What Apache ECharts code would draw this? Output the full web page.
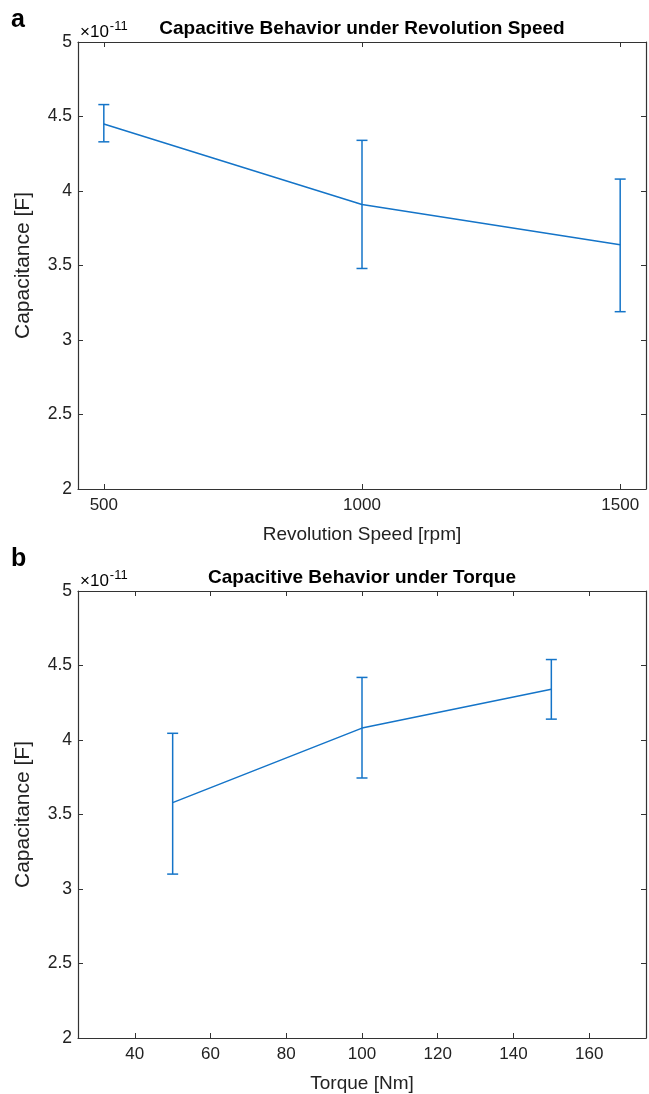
<!DOCTYPE html>
<html>
<head>
<meta charset="utf-8">
<script src="https://cdn.jsdelivr.net/npm/echarts@6/dist/echarts.min.js"></script>
<style>
html,body{margin:0;padding:0;background:#fff;}
#c{width:649px;height:1094px;}
</style>
</head>
<body>
<div id="c"></div>
<script>
// Panel a: revolution speed (values in units of 1e-11 F)
const speedX = [500, 1000, 1500];
const speedMean = [4.45, 3.91, 3.64];
const speedLow = [4.33, 3.48, 3.19];
const speedHigh = [4.58, 4.34, 4.08];
const speedTicks = [500, 1000, 1500];

// Panel b: torque
const torqueX = [50, 100, 150];
const torqueMean = [3.58, 4.08, 4.34];
const torqueLow = [3.10, 3.745, 4.14];
const torqueHigh = [4.045, 4.42, 4.54];
const torqueTicks = [40, 60, 80, 100, 120, 140, 160];

const yTicks = [2, 2.5, 3, 3.5, 4, 4.5, 5];

const BLUE = '#1474c8';
const AX = '#333333';
const FONT = 'Liberation Sans';

const chart = echarts.init(document.getElementById('c'));

function xAxes(gridIndex, min, max, ticks, name) {
  return [
    {
      type: 'value', gridIndex, position: 'bottom', min, max,
      name, nameLocation: 'middle', nameGap: 36,
      nameTextStyle: {fontFamily: FONT, fontSize: 19, color: '#222'},
      axisLine: {show: true, onZero: false, lineStyle: {color: AX, width: 1.2}},
      axisTick: {show: true, inside: true, length: 5, customValues: ticks, lineStyle: {color: AX}},
      axisLabel: {show: true, customValues: ticks, margin: 8, fontFamily: FONT, fontSize: 17, color: '#222',
        formatter: v => String(v)},
      splitLine: {show: false}
    },
    {
      type: 'value', gridIndex, position: 'top', min, max,
      axisLine: {show: true, onZero: false, lineStyle: {color: AX, width: 1.2}},
      axisTick: {show: true, inside: true, length: 5, customValues: ticks, lineStyle: {color: AX}},
      axisLabel: {show: false},
      splitLine: {show: false}
    }
  ];
}

function yAxes(gridIndex) {
  return [
    {
      type: 'value', gridIndex, position: 'left', min: 2, max: 5, interval: 0.5,
      name: 'Capacitance [F]', nameLocation: 'middle', nameGap: 44,
      nameTextStyle: {fontFamily: FONT, fontSize: 21, color: '#222'},
      axisLine: {show: true, onZero: false, lineStyle: {color: AX, width: 1.2}},
      axisTick: {show: true, inside: true, length: 5, customValues: yTicks, lineStyle: {color: AX}},
      axisLabel: {show: true, customValues: yTicks, margin: 6, fontFamily: FONT, fontSize: 17.5, color: '#222',
        formatter: v => String(v)},
      splitLine: {show: false}
    },
    {
      type: 'value', gridIndex, position: 'right', min: 2, max: 5, interval: 0.5,
      axisLine: {show: true, onZero: false, lineStyle: {color: AX, width: 1.2}},
      axisTick: {show: true, inside: true, length: 5, customValues: yTicks, lineStyle: {color: AX}},
      axisLabel: {show: false},
      splitLine: {show: false}
    }
  ];
}

function errRender(params, api) {
  const x = api.value(0);
  const lo = api.coord([x, api.value(1)]);
  const hi = api.coord([x, api.value(2)]);
  const hw = 5.5;
  const style = {stroke: BLUE, lineWidth: 1.5, fill: null};
  return {
    type: 'group',
    children: [
      {type: 'line', shape: {x1: lo[0], y1: lo[1], x2: hi[0], y2: hi[1]}, style},
      {type: 'line', shape: {x1: lo[0] - hw, y1: lo[1], x2: lo[0] + hw, y2: lo[1]}, style},
      {type: 'line', shape: {x1: hi[0] - hw, y1: hi[1], x2: hi[0] + hw, y2: hi[1]}, style}
    ]
  };
}

function expText(y) {
  return {type: 'text', x: 80, y: y, style: {
    text: '{b|×10}{s|-11}', verticalAlign: 'bottom',
    rich: {
      b: {fontFamily: FONT, fontSize: 17, color: '#222', verticalAlign: 'bottom'},
      s: {fontFamily: FONT, fontSize: 13, color: '#222', verticalAlign: 'bottom', padding: [0, 0, 8, 1]}
    }
  }};
}

const xa = xAxes(0, 450, 1550, speedTicks, 'Revolution Speed [rpm]');
const xb = xAxes(1, 25, 175, torqueTicks, 'Torque [Nm]');
const ya = yAxes(0);
const yb = yAxes(1);

const option = {
  backgroundColor: '#fff',
  animation: false,
  grid: [
    {left: 78, top: 42, width: 568, height: 447, containLabel: false},
    {left: 78, top: 591, width: 568, height: 447, containLabel: false}
  ],
  xAxis: [...xa, ...xb],
  yAxis: [...ya, ...yb],
  graphic: [
    {type: 'text', left: 11, top: 8, style: {text: 'a', font: 'bold 25px ' + FONT, fill: '#000'}},
    {type: 'text', left: 11, top: 547, style: {text: 'b', font: 'bold 25px ' + FONT, fill: '#000'}},
    {type: 'text', x: 362, y: 29, style: {text: 'Capacitive Behavior under Revolution Speed', font: 'bold 19px ' + FONT, fill: '#000', align: 'center', verticalAlign: 'middle'}},
    {type: 'text', x: 362, y: 578, style: {text: 'Capacitive Behavior under Torque', font: 'bold 19px ' + FONT, fill: '#000', align: 'center', verticalAlign: 'middle'}},
    expText(41),
    expText(590)
  ],
  series: [
    {type: 'line', xAxisIndex: 0, yAxisIndex: 0, showSymbol: false, symbol: 'none',
      lineStyle: {color: BLUE, width: 1.5}, data: speedX.map((x, i) => [x, speedMean[i]]), z: 3},
    {type: 'custom', xAxisIndex: 0, yAxisIndex: 0, renderItem: errRender,
      data: speedX.map((x, i) => [x, speedLow[i], speedHigh[i]]), z: 2},
    {type: 'line', xAxisIndex: 2, yAxisIndex: 2, showSymbol: false, symbol: 'none',
      lineStyle: {color: BLUE, width: 1.5}, data: torqueX.map((x, i) => [x, torqueMean[i]]), z: 3},
    {type: 'custom', xAxisIndex: 2, yAxisIndex: 2, renderItem: errRender,
      data: torqueX.map((x, i) => [x, torqueLow[i], torqueHigh[i]]), z: 2}
  ]
};
chart.setOption(option);
</script>
</body>
</html>
